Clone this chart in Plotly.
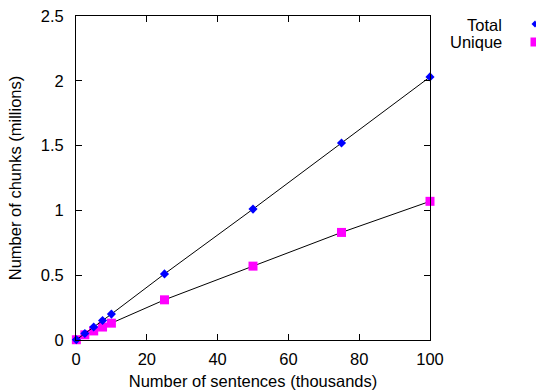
import plotly.graph_objects as go

sentences = [0.1, 2.5, 5, 7.5, 10, 25, 50, 75, 100]
total = [0.002, 0.05, 0.10, 0.15, 0.20, 0.51, 1.01, 1.52, 2.03]
unique = [0.002, 0.04, 0.07, 0.10, 0.13, 0.31, 0.57, 0.83, 1.07]
x_ticks = [0, 20, 40, 60, 80, 100]
y_ticks = [0, 0.5, 1, 1.5, 2, 2.5]
y_tick_text = ["0", "0.5", "1", "1.5", "2", "2.5"]

W, H = 536, 392
L, R, T, B = 76, 106, 16, 52
pw, ph = W - L - R, H - T - B

def px(xp):
    return (xp - L) / pw

def py(yp):
    return 1 - (yp - T) / ph

FONT = "Liberation Sans, Arial, sans-serif"
FS = 16.5

fig = go.Figure()
fig.add_trace(go.Scatter(
    x=sentences, y=unique, mode="lines+markers", name="Unique",
    line=dict(color="black", width=1),
    marker=dict(color="#ff00ff", symbol="square", size=9),
    cliponaxis=False, showlegend=False))
fig.add_trace(go.Scatter(
    x=sentences, y=total, mode="lines+markers", name="Total",
    line=dict(color="black", width=1),
    marker=dict(color="#0000ff", symbol="diamond", size=7),
    cliponaxis=False, showlegend=False))

axis_common = dict(
    showline=True, linecolor="black", linewidth=1, mirror="ticks",
    ticks="inside", ticklen=6, tickcolor="black", tickwidth=1,
    showgrid=False, zeroline=False, automargin=False,
    tickfont=dict(family=FONT, size=FS, color="black"),
)

fig.update_xaxes(range=[0, 100], tickvals=x_ticks, ticklabelstandoff=4,
                 title=dict(text="Number of sentences (thousands)",
                            font=dict(family=FONT, size=FS, color="black"), standoff=8),
                 **axis_common)
fig.update_yaxes(range=[0, 2.5], tickvals=y_ticks, ticktext=y_tick_text, ticklabelstandoff=8,
                 title=dict(text="Number of chunks (millions)",
                            font=dict(family=FONT, size=FS, color="black"), standoff=14),
                 **axis_common)

annotations = [
    dict(x=px(504), y=py(25), xref="paper", yref="paper", text="Total",
         showarrow=False, xanchor="right", yanchor="middle", align="right",
         font=dict(family=FONT, size=FS, color="black")),
    dict(x=px(504), y=py(42), xref="paper", yref="paper", text="Unique",
         showarrow=False, xanchor="right", yanchor="middle", align="right",
         font=dict(family=FONT, size=FS, color="black")),
]
shapes = [
    dict(type="path", xref="paper", yref="paper", xsizemode="pixel", ysizemode="pixel",
         xanchor=px(535), yanchor=py(24), path="M -3.5 0 L 0 3.5 L 3.5 0 L 0 -3.5 Z",
         fillcolor="#0000ff", line=dict(width=0)),
    dict(type="rect", xref="paper", yref="paper", xsizemode="pixel", ysizemode="pixel",
         xanchor=px(535), yanchor=py(42), x0=-4.5, x1=4.5, y0=-4.5, y1=4.5,
         fillcolor="#ff00ff", line=dict(width=0)),
]

fig.update_layout(
    width=W, height=H,
    margin=dict(l=L, r=R, t=T, b=B, pad=0, autoexpand=False),
    paper_bgcolor="white", plot_bgcolor="white",
    annotations=annotations, shapes=shapes,
    showlegend=False,
)

fig.write_html("out.html", config={"displayModeBar": False, "staticPlot": True},
               post_script="document.body.style.margin='0';document.body.style.overflow='hidden';")
